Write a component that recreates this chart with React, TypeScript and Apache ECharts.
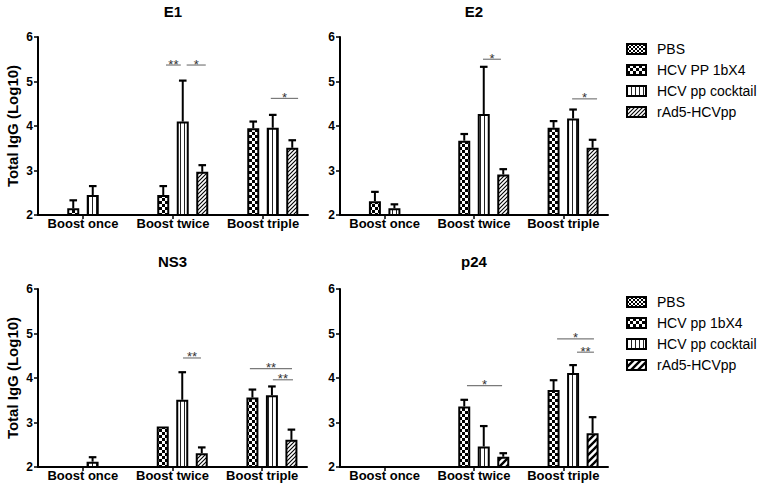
import React, { useEffect, useRef } from 'react';
import * as echarts from 'echarts';

const FONT = '"Liberation Sans", Arial, Helvetica, sans-serif';

// ---------- data ----------
const categories = ['Boost once', 'Boost twice', 'Boost triple'];
const legendTop = ['PBS', 'HCV PP 1bX4', 'HCV pp cocktail', 'rAd5-HCVpp'];
const legendBottom = ['PBS', 'HCV pp 1bX4', 'HCV pp cocktail', 'rAd5-HCVpp'];
const panelTitles = ['E1', 'E2', 'NS3', 'p24'];
const yAxisTitle = 'Total IgG (Log10)';
const yMin = 2;
const yMax = 6;
const yStep = 1;

// means (log10) per group: Boost once, Boost twice, Boost triple
const e1PBS = [null, null, null];
const e1PP1b = [2.15, 2.45, 3.95];
const e1Cocktail = [2.45, 4.1, 3.96];
const e1Rad5 = [null, 2.97, 3.51];
// upper ends of error bars
const e1PBSErr = [null, null, null];
const e1PP1bErr = [2.33, 2.65, 4.1];
const e1CocktailErr = [2.65, 5.02, 4.25];
const e1Rad5Err = [null, 3.12, 3.68];
// significance: [group, from slot, to slot, y, label]
const e1Sig = [[1, 1.14, 1.9, 5.37, '**'], [1, 2.2, 3.18, 5.37, '*'], [2, 1.9, 3.3, 4.62, '*']];

const e2PBS = [null, null, null];
const e2PP1b = [2.31, 3.67, 3.96];
const e2Cocktail = [2.15, 4.27, 4.17];
const e2Rad5 = [null, 2.91, 3.51];
const e2PBSErr = [null, null, null];
const e2PP1bErr = [2.52, 3.82, 4.11];
const e2CocktailErr = [2.24, 5.33, 4.37];
const e2Rad5Err = [null, 3.03, 3.69];
const e2Sig = [[1, 1.96, 2.88, 5.5, '*'], [2, 1.95, 3.23, 4.61, '*']];

const ns3PBS = [null, null, null];
const ns3PP1b = [null, 2.91, 3.56];
const ns3Cocktail = [2.12, 3.51, 3.61];
const ns3Rad5 = [null, 2.31, 2.61];
const ns3PBSErr = [null, null, null];
const ns3PP1bErr = [null, null, 3.74];
const ns3CocktailErr = [2.22, 4.13, 3.81];
const ns3Rad5Err = [null, 2.44, 2.84];
const ns3Sig = [[1, 2.04, 2.96, 4.45, '**'], [2, 0.87, 3.03, 4.21, '**'], [2, 2.05, 3.08, 3.96, '**']];

const p24PBS = [null, null, null];
const p24PP1b = [null, 3.36, 3.73];
const p24Cocktail = [null, 2.46, 4.11];
const p24Rad5 = [null, 2.23, 2.76];
const p24PBSErr = [null, null, null];
const p24PP1bErr = [null, 3.51, 3.95];
const p24CocktailErr = [null, 2.92, 4.29];
const p24Rad5Err = [null, 2.31, 3.12];
const p24Sig = [[1, 1.14, 2.94, 3.83, '*'], [2, 1.18, 3.07, 4.88, '*'], [2, 2.2, 3.07, 4.58, '**']];

// ---------- layout / style ----------
const GRIDS = [
  { left: 38, top: 37, width: 270, height: 178 },
  { left: 340, top: 37, width: 268, height: 178 },
  { left: 38, top: 289, width: 269, height: 178 },
  { left: 340, top: 289, width: 268, height: 178 },
];
const TITLE_TOP = [4, 4, 254, 254];
const BAR_W = 12;
const SLOT_STEP = 19.5;
const CAP = 3.8;

function makeTile(kind: string) {
  const c = document.createElement('canvas');
  let w = 4;
  let h = 4;
  if (kind === 'checker') { w = 6; h = 6; }
  if (kind === 'diagBold') { w = 7; h = 7; }
  c.width = w;
  c.height = h;
  const ctx = c.getContext('2d')!;
  ctx.fillStyle = '#fff';
  ctx.fillRect(0, 0, w, h);
  ctx.fillStyle = '#000';
  ctx.strokeStyle = '#000';
  if (kind === 'fine') {
    ctx.fillRect(0, 0, 2, 2);
    ctx.fillRect(2, 2, 2, 2);
  } else if (kind === 'checker') {
    ctx.fillRect(0, 0, 3, 3);
    ctx.fillRect(3, 3, 3, 3);
  } else if (kind === 'vstripe') {
    ctx.fillStyle = '#222';
    ctx.fillRect(0, 0, 1, h);
  } else {
    ctx.lineWidth = kind === 'diagBold' ? 2.4 : 1.1;
    ctx.beginPath();
    ctx.moveTo(-1, h + 1); ctx.lineTo(w + 1, -1);
    ctx.moveTo(-w - 1, h + 1); ctx.lineTo(1, -1);
    ctx.moveTo(w - 1, h + 1); ctx.lineTo(2 * w + 1, -1);
    ctx.stroke();
  }
  return { image: c, repeat: 'repeat', imageWidth: w, imageHeight: h } as any;
}

function buildOption() {
  const pats = {
    fine: makeTile('fine'),
    checker: makeTile('checker'),
    vstripe: makeTile('vstripe'),
    diag: makeTile('diag'),
    diagBold: makeTile('diagBold'),
  };
  const panelPatterns = [
    [pats.fine, pats.checker, pats.vstripe, pats.diag],
    [pats.fine, pats.checker, pats.vstripe, pats.diag],
    [pats.fine, pats.checker, pats.vstripe, pats.diag],
    [pats.fine, pats.checker, pats.vstripe, pats.diagBold],
  ];
  const panels = [
    { names: legendTop, values: [e1PBS, e1PP1b, e1Cocktail, e1Rad5], errs: [e1PBSErr, e1PP1bErr, e1CocktailErr, e1Rad5Err], sig: e1Sig, yName: true },
    { names: legendTop, values: [e2PBS, e2PP1b, e2Cocktail, e2Rad5], errs: [e2PBSErr, e2PP1bErr, e2CocktailErr, e2Rad5Err], sig: e2Sig, yName: false },
    { names: legendBottom, values: [ns3PBS, ns3PP1b, ns3Cocktail, ns3Rad5], errs: [ns3PBSErr, ns3PP1bErr, ns3CocktailErr, ns3Rad5Err], sig: ns3Sig, yName: true },
    { names: legendBottom, values: [p24PBS, p24PP1b, p24Cocktail, p24Rad5], errs: [p24PBSErr, p24PP1bErr, p24CocktailErr, p24Rad5Err], sig: p24Sig, yName: false },
  ];

  const grid: any[] = [];
  const xAxis: any[] = [];
  const yAxis: any[] = [];
  const title: any[] = [];
  const series: any[] = [];

  panels.forEach((p, g) => {
    const G = GRIDS[g];
    grid.push({ ...G, containLabel: false, outerBoundsMode: 'none' });
    title.push({
      text: panelTitles[g],
      left: G.left + G.width / 2,
      top: TITLE_TOP[g],
      textAlign: 'center',
      padding: 0,
      textStyle: { fontSize: 15, fontWeight: 'bold', color: '#000', fontFamily: FONT },
    });
    xAxis.push({
      type: 'category',
      gridIndex: g,
      data: categories,
      axisLine: { show: true, lineStyle: { color: '#000', width: 2 } },
      axisTick: { show: true, alignWithLabel: true, length: 4, lineStyle: { color: '#000', width: 1.5 } },
      axisLabel: { color: '#000', fontWeight: 'bold', fontSize: 13, fontFamily: FONT, margin: 2, interval: 0 },
      splitLine: { show: false },
    });
    yAxis.push({
      type: 'value',
      gridIndex: g,
      min: yMin,
      max: yMax,
      interval: yStep,
      name: p.yName ? yAxisTitle : '',
      nameLocation: 'middle',
      nameRotate: 90,
      nameGap: 18,
      nameTextStyle: { fontSize: 15, fontWeight: 'bold', color: '#000', fontFamily: FONT },
      axisLine: { show: true, lineStyle: { color: '#000', width: 2 } },
      axisTick: { show: true, length: 4, lineStyle: { color: '#000', width: 1.5 } },
      axisLabel: { color: '#000', fontWeight: 'bold', fontSize: 12, fontFamily: FONT, margin: 5 },
      splitLine: { show: false },
    });

    p.values.forEach((vals, j) => {
      series.push({
        type: 'bar',
        name: p.names[j],
        xAxisIndex: g,
        yAxisIndex: g,
        data: vals,
        barWidth: BAR_W,
        barGap: '62.5%',
        itemStyle: { color: panelPatterns[g][j], borderColor: '#000', borderWidth: 2 },
        emphasis: { disabled: true },
        silent: true,
        z: 2,
      });
    });

    const errItems: any[] = [];
    p.errs.forEach((tops, j) => {
      tops.forEach((t, cat) => {
        const v = p.values[j][cat];
        if (t != null && v != null) errItems.push([cat, t, j, v]);
      });
    });
    series.push({
      type: 'custom',
      xAxisIndex: g,
      yAxisIndex: g,
      silent: true,
      z: 5,
      data: errItems,
      renderItem: (params: any, api: any) => {
        const cat = api.value(0);
        const top = api.value(1);
        const slot = api.value(2);
        const base = api.value(3);
        const pt = api.coord([cat, top]);
        const pb = api.coord([cat, base]);
        const x = pt[0] + (slot - 1.5) * SLOT_STEP;
        return {
          type: 'group',
          children: [
            { type: 'line', shape: { x1: x, y1: pb[1], x2: x, y2: pt[1] }, style: { stroke: '#000', lineWidth: 2 } },
            { type: 'line', shape: { x1: x - CAP, y1: pt[1], x2: x + CAP, y2: pt[1] }, style: { stroke: '#000', lineWidth: 2.2 } },
          ],
        };
      },
    });

    const sig = p.sig;
    series.push({
      type: 'custom',
      xAxisIndex: g,
      yAxisIndex: g,
      silent: true,
      z: 6,
      data: sig.map((s, i) => [s[0], s[3], i]),
      renderItem: (params: any, api: any) => {
        const s: any = sig[api.value(2)];
        const pt = api.coord([s[0], s[3]]);
        const x1 = pt[0] + (s[1] - 1.5) * SLOT_STEP;
        const x2 = pt[0] + (s[2] - 1.5) * SLOT_STEP;
        return {
          type: 'group',
          children: [
            { type: 'line', shape: { x1, y1: pt[1], x2, y2: pt[1] }, style: { stroke: '#7a7a7a', lineWidth: 1.2 } },
            {
              type: 'text',
              x: (x1 + x2) / 2,
              y: pt[1] - 1,
              style: { text: s[4], fill: '#333', font: `13px ${FONT}`, align: 'center', verticalAlign: 'middle' },
            },
          ],
        };
      },
    });
  });

  const legendPatterns = [panelPatterns[0], panelPatterns[3]];
  const legend = [legendTop, legendBottom].map((names, k) => ({
    orient: 'vertical',
    left: 626,
    top: k === 0 ? 42 : 295,
    icon: 'rect',
    itemWidth: 19,
    itemHeight: 10,
    itemGap: 7,
    padding: 0,
    selectedMode: false,
    textStyle: { fontSize: 14, color: '#000', fontFamily: FONT, padding: [0, 0, 0, 6] },
    data: names.map((name, j) => ({
      name,
      itemStyle: { color: legendPatterns[k][j], borderColor: '#000', borderWidth: 2 },
    })),
  }));

  return {
    animation: false,
    backgroundColor: '#fff',
    textStyle: { fontFamily: FONT },
    title,
    legend,
    grid,
    xAxis,
    yAxis,
    series,
    tooltip: { show: false },
  };
}

export default function App() {
  const ref = useRef<HTMLDivElement>(null);
  useEffect(() => {
    const chart = echarts.init(ref.current!, null, { renderer: 'svg' });
    chart.setOption(buildOption() as any);
    return () => chart.dispose();
  }, []);
  return <div ref={ref} style={{ position: 'absolute', left: 0, top: 0, width: 764, height: 492 }} />;
}
